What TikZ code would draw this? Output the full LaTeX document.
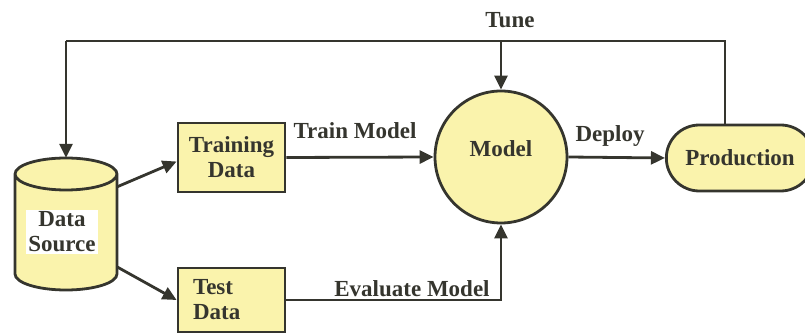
\documentclass[tikz,border=0pt]{standalone}
\usepackage{fontspec}
\setmainfont{Liberation Serif}
\usetikzlibrary{arrows.meta,shapes.misc,calc}
\definecolor{boxfill}{HTML}{FAF3AC}
\definecolor{ink}{HTML}{35352E}
\begin{document}
\begin{tikzpicture}[x=1pt,y=1pt,
 every node/.style={font=\fontsize{23}{25}\selectfont\bfseries, text=ink},
 flow/.style={draw=ink, line width=2.8pt, -{Triangle[length=14pt,width=13pt]}},
 plain/.style={draw=ink, line width=2.8pt},
 box/.style={draw=ink, line width=2.8pt, fill=boxfill, minimum width=107pt, inner sep=0pt, align=center},
 lbl/.style={inner sep=0pt}
]
\useasboundingbox (0,0) rectangle (805,334);
% cylinder (Data Source)
\fill[boxfill] (15,160) -- (15,60) arc[start angle=180,end angle=360,x radius=51,y radius=16]
  -- (117,160) arc[start angle=0,end angle=180,x radius=51,y radius=16] -- cycle;
\draw[plain] (15,160) -- (15,60) arc[start angle=180,end angle=360,x radius=51,y radius=16]
  -- (117,160) arc[start angle=0,end angle=180,x radius=51,y radius=16]
  arc[start angle=180,end angle=360,x radius=51,y radius=16];
\node[minimum width=102pt, minimum height=132pt, inner sep=0pt] (ds) at (66,110) {};
\node[fill=white, inner sep=2pt, align=center] (dslabel) at (62,102) {Data\\Source};

\node[box, minimum height=69pt] (train) at (231.5,176.5) {Training\\Data};
\node[box, minimum height=64pt, align=left, inner xsep=15pt, text width=77pt] (test) at (231.5,34) {Test\\Data};
\node[circle, draw=ink, line width=2.8pt, fill=boxfill, minimum size=132pt, inner sep=0pt,
  label={[lbl, yshift=8pt]center:Model}] (model) at (501,177) {};
\node[rounded rectangle, draw=ink, line width=2.8pt, fill=boxfill, minimum width=154pt, minimum height=66pt] (prod) at (740,176) {Production};

\coordinate (tuneL) at (66,293);
\coordinate (tuneR) at (725,293);
\draw[plain] (prod.north -| tuneR) -- (tuneR) -- (tuneL);
\draw[flow] (tuneL) -- (ds.north);
\draw[flow] (model.north |- tuneR) -- (model.north);
\node[lbl] (tune) at (510,314) {Tune};

\draw[flow] (ds.36) -- ($(train.west)+(0,-4)$);
\draw[flow] (ds.-40) -- (test.west);
\draw[flow] (train.east) -- (model.west);
\node[lbl] (trainlbl) at (355,203) {Train Model};
\draw[flow] (model.east) -- (prod.west);
\node[lbl] (deploylbl) at (610,198) {Deploy};
\draw[flow] (test.east) -| (model.south);
\node[lbl] (evallbl) at (412,45) {Evaluate Model};
\end{tikzpicture}
\end{document}
